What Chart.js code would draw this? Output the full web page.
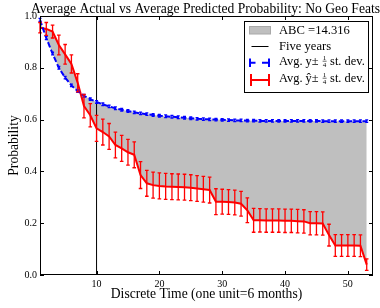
<!DOCTYPE html>
<html>
<head>
<meta charset="utf-8">
<script src="https://cdn.jsdelivr.net/npm/chart.js@4.4.0/dist/chart.umd.min.js"></script>
<style>
  html, body { margin: 0; padding: 0; background: #fff; }
  #wrap { width: 380px; height: 308px; }
</style>
</head>
<body>
<div id="wrap"><canvas id="probChart" width="380" height="308"></canvas></div>
<script>
// Discrete time steps (one unit = 6 months)
const timeSteps = [1, 2, 3, 4, 5, 6, 7, 8, 9, 10, 11, 12, 13, 14, 15, 16, 17, 18, 19, 20,
    21, 22, 23, 24, 25, 26, 27, 28, 29, 30, 31, 32, 33, 34, 35, 36, 37, 38, 39, 40,
    41, 42, 43, 44, 45, 46, 47, 48, 49, 50, 51, 52, 53];

// Average actual probability (blue, dashed)
const avgActual = [0.985, 0.915, 0.855, 0.800, 0.762, 0.732, 0.710, 0.692, 0.679, 0.668,
    0.659, 0.651, 0.644, 0.638, 0.633, 0.628, 0.624, 0.621, 0.618, 0.615,
    0.613, 0.611, 0.609, 0.607, 0.605, 0.603, 0.602, 0.601, 0.600, 0.599,
    0.598, 0.597, 0.597, 0.596, 0.596, 0.595, 0.595, 0.595, 0.595, 0.595,
    0.595, 0.595, 0.595, 0.595, 0.595, 0.594, 0.594, 0.594, 0.594, 0.594,
    0.594, 0.594, 0.594];

// Average predicted probability (red)
const avgPredicted = [0.955, 0.950, 0.940, 0.888, 0.852, 0.815, 0.742, 0.652, 0.617, 0.566,
    0.552, 0.535, 0.502, 0.489, 0.474, 0.464, 0.386, 0.354, 0.347, 0.344,
    0.342, 0.341, 0.340, 0.339, 0.337, 0.334, 0.331, 0.328, 0.283, 0.283,
    0.282, 0.280, 0.275, 0.250, 0.211, 0.211, 0.210, 0.210, 0.210, 0.209,
    0.209, 0.208, 0.207, 0.200, 0.200, 0.199, 0.154, 0.114, 0.114, 0.114,
    0.114, 0.113, 0.040];

// 1/4 standard deviation for each series
const actualErr = [0.006, 0.006, 0.005, 0.005, 0.005, 0.005, 0.005, 0.005, 0.005, 0.005,
    0.005, 0.005, 0.005, 0.005, 0.005, 0.005, 0.005, 0.005, 0.005, 0.005,
    0.005, 0.005, 0.005, 0.005, 0.005, 0.005, 0.005, 0.005, 0.005, 0.005,
    0.005, 0.005, 0.005, 0.005, 0.005, 0.005, 0.005, 0.005, 0.005, 0.005,
    0.005, 0.005, 0.005, 0.005, 0.005, 0.005, 0.005, 0.005, 0.005, 0.005,
    0.005, 0.005, 0.005];
const predictedErr = [0.020, 0.025, 0.025, 0.038, 0.038, 0.035, 0.035, 0.045, 0.045, 0.050,
    0.050, 0.050, 0.050, 0.050, 0.050, 0.050, 0.052, 0.050, 0.050, 0.050,
    0.050, 0.050, 0.050, 0.050, 0.050, 0.050, 0.050, 0.050, 0.050, 0.048,
    0.048, 0.048, 0.048, 0.048, 0.046, 0.045, 0.045, 0.045, 0.045, 0.045,
    0.045, 0.045, 0.045, 0.045, 0.045, 0.045, 0.042, 0.042, 0.042, 0.042,
    0.042, 0.042, 0.022];

const xTicks = [10, 20, 30, 40, 50];
const yTicks = [0, 0.2, 0.4, 0.6, 0.8, 1.0];
const fiveYears = 10;
const abcValue = '14.316';
const chartTitle = 'Average Actual vs Average Predicted Probability: No Geo Feats';

const SERIF = '"Liberation Serif", "DejaVu Serif", serif';

const toPoints = (vals) => timeSteps.map((t, i) => ({ x: t, y: vals[i] }));

// error bars drawn through the chart scales
const errorBars = {
    id: 'errorBars',
    afterDatasetsDraw(chart) {
        const { ctx, scales: { x, y } } = chart;
        const series = [
            { vals: avgActual, errs: actualErr, color: '#0000ff', cap: 1.5 },
            { vals: avgPredicted, errs: predictedErr, color: '#ff0000', cap: 1.8 },
        ];
        ctx.save();
        series.forEach(s => {
            ctx.strokeStyle = s.color;
            ctx.lineWidth = 1.3;
            timeSteps.forEach((t, i) => {
                const px = x.getPixelForValue(t);
                const top = y.getPixelForValue(s.vals[i] + s.errs[i]);
                const bot = y.getPixelForValue(s.vals[i] - s.errs[i]);
                ctx.beginPath();
                ctx.moveTo(px, top); ctx.lineTo(px, bot);
                ctx.moveTo(px - s.cap, top); ctx.lineTo(px + s.cap, top);
                ctx.moveTo(px - s.cap, bot); ctx.lineTo(px + s.cap, bot);
                ctx.stroke();
            });
        });
        ctx.restore();
    }
};

// frame, inward ticks, title and legend
const decorations = {
    id: 'decorations',
    afterDraw(chart) {
        const { ctx, chartArea: a, scales: { x, y } } = chart;
        ctx.save();
        ctx.strokeStyle = '#000';
        ctx.lineWidth = 1;
        ctx.strokeRect(a.left + 0.5, a.top + 0.5, a.right - a.left - 1, a.bottom - a.top - 1);
        ctx.beginPath();
        xTicks.forEach(v => {
            const px = Math.round(x.getPixelForValue(v)) + 0.5;
            ctx.moveTo(px, a.bottom); ctx.lineTo(px, a.bottom - 4);
            ctx.moveTo(px, a.top); ctx.lineTo(px, a.top + 4);
        });
        yTicks.forEach(v => {
            const py = Math.round(y.getPixelForValue(v)) + 0.5;
            ctx.moveTo(a.left, py); ctx.lineTo(a.left + 4, py);
            ctx.moveTo(a.right, py); ctx.lineTo(a.right - 4, py);
        });
        ctx.stroke();

        // title
        ctx.fillStyle = '#000';
        ctx.font = '13.6px ' + SERIF;
        ctx.textAlign = 'center';
        ctx.textBaseline = 'alphabetic';
        ctx.fillText(chartTitle, (a.left + a.right) / 2 - 1, 12.5);

        // legend box
        const lx = 244, ly = 21, lw = 124, lh = 71;
        ctx.fillStyle = '#fff';
        ctx.fillRect(lx, ly, lw, lh);
        ctx.strokeStyle = '#000';
        ctx.strokeRect(lx + 0.5, ly + 0.5, lw, lh);

        // ABC patch
        ctx.fillStyle = '#bfbfbf';
        ctx.fillRect(249.5, 26.5, 21, 7.5);
        ctx.strokeStyle = '#a8a8a8';
        ctx.strokeRect(249.5, 26.5, 21, 7.5);

        // five years line
        ctx.strokeStyle = '#000';
        ctx.lineWidth = 1;
        ctx.beginPath();
        ctx.moveTo(251.5, 46.5); ctx.lineTo(268.5, 46.5);
        ctx.stroke();

        // blue errorbar glyph
        ctx.strokeStyle = '#0000ff';
        ctx.lineWidth = 2;
        ctx.beginPath();
        ctx.moveTo(250, 58.5); ctx.lineTo(250, 67);
        ctx.moveTo(269, 58.5); ctx.lineTo(269, 67);
        ctx.moveTo(250, 62.7); ctx.lineTo(255.5, 62.7);
        ctx.moveTo(262, 62.7); ctx.lineTo(269, 62.7);
        ctx.stroke();

        // red errorbar glyph
        ctx.strokeStyle = '#ff0000';
        ctx.beginPath();
        ctx.moveTo(251, 74); ctx.lineTo(251, 86);
        ctx.moveTo(269, 74); ctx.lineTo(269, 86);
        ctx.moveTo(251, 80); ctx.lineTo(269, 80);
        ctx.stroke();

        // legend texts
        ctx.fillStyle = '#000';
        ctx.textAlign = 'left';
        ctx.font = '12.6px ' + SERIF;
        ctx.fillText('ABC =' + abcValue, 279, 34);
        ctx.fillText('Five years', 279, 49.7);

        const fracRow = (prefix, base) => {
            ctx.font = '12.4px ' + SERIF;
            ctx.textAlign = 'left';
            ctx.fillText(prefix, 279, base);
            let cx = 279 + ctx.measureText(prefix).width + 4;
            ctx.font = '7px ' + SERIF;
            ctx.textAlign = 'center';
            ctx.fillText('1', cx + 2, base - 4.5);
            ctx.fillText('4', cx + 2, base + 2);
            ctx.lineWidth = 0.6;
            ctx.strokeStyle = '#000';
            ctx.beginPath();
            ctx.moveTo(cx, base - 3.3); ctx.lineTo(cx + 4, base - 3.3);
            ctx.stroke();
            ctx.font = '12.4px ' + SERIF;
            ctx.textAlign = 'left';
            ctx.fillText('st. dev.', cx + 7.5, base);
        };
        fracRow('Avg. y\u00b1', 64.5);
        fracRow('Avg. \u0177\u00b1', 81.5);
        ctx.restore();
    }
};

const ctx = document.getElementById('probChart').getContext('2d');
new Chart(ctx, {
    type: 'line',
    data: {
        datasets: [
            {
                label: 'Avg. y',
                data: toPoints(avgActual),
                borderColor: '#0000ff',
                borderWidth: 2,
                borderDash: [5.5, 2.4],
                pointRadius: 0,
                fill: false,
                tension: 0,
            },
            {
                label: 'Avg. y hat',
                data: toPoints(avgPredicted),
                borderColor: '#ff0000',
                backgroundColor: '#bfbfbf',
                borderWidth: 2,
                pointRadius: 0,
                fill: '-1',
                tension: 0,
            },
            {
                label: 'Five years',
                data: [{ x: fiveYears, y: 0 }, { x: fiveYears, y: 1 }],
                borderColor: '#000',
                borderWidth: 1,
                pointRadius: 0,
                fill: false,
            },
        ],
    },
    options: {
        responsive: false,
        animation: false,
        layout: { padding: { top: 16, right: 7, left: 0, bottom: 0 } },
        plugins: {
            legend: { display: false },
            title: { display: false },
            tooltip: { enabled: false },
            filler: { drawTime: 'beforeDatasetsDraw' },
        },
        scales: {
            x: {
                type: 'linear',
                min: 1,
                max: 54,
                afterBuildTicks: s => { s.ticks = xTicks.map(v => ({ value: v })); },
                afterFit: s => { s.height = 33; },
                grid: { display: false, drawTicks: false },
                border: { display: false },
                ticks: { padding: 3, color: '#000', font: { family: SERIF, size: 10 }, callback: v => String(v), maxRotation: 0 },
                title: { display: true, text: 'Discrete Time (one unit=6 months)', color: '#000', font: { family: SERIF, size: 13.6 }, padding: { top: 0, bottom: 5 } },
            },
            y: {
                min: 0,
                max: 1,
                afterBuildTicks: s => { s.ticks = yTicks.map(v => ({ value: v })); },
                afterFit: s => { s.width = 40; },
                grid: { display: false, drawTicks: false },
                border: { display: false },
                ticks: { padding: 3, color: '#000', font: { family: SERIF, size: 10 }, callback: v => v.toFixed(1) },
                title: { display: true, text: 'Probability', color: '#000', font: { family: SERIF, size: 13.6 }, padding: { top: 6, bottom: 0 } },
            },
        },
    },
    plugins: [errorBars, decorations],
});
</script>
</body>
</html>
